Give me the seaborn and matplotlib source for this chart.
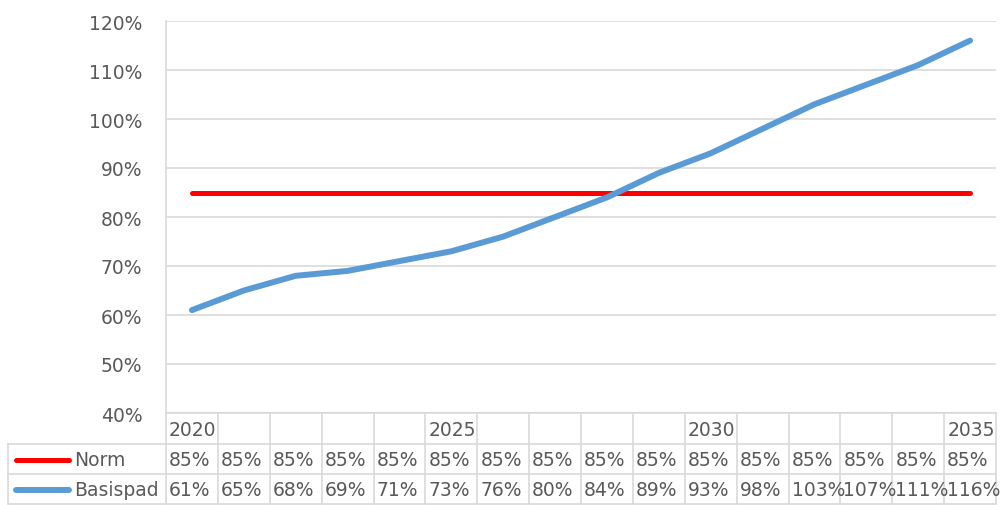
import numpy as np
import pandas as pd
import matplotlib
matplotlib.use("Agg")
import matplotlib.pyplot as plt
from matplotlib import transforms
from matplotlib.lines import Line2D
import seaborn as sns

# ---- data ----
years = list(range(2020, 2036))
year_labels = ["2020", "", "", "", "", "2025", "", "", "", "", "2030", "", "", "", "", "2035"]
norm = [85] * 16
basispad = [61, 65, 68, 69, 71, 73, 76, 80, 84, 89, 93, 98, 103, 107, 111, 116]
series_names = ["Norm", "Basispad"]
series_colors = ["#ff0000", "#5b9bd5"]
series_widths = [3.6, 4.3]
ytick_values = [40, 50, 60, 70, 80, 90, 100, 110, 120]

df = pd.DataFrame({
    "idx": list(range(len(years))) * 2,
    "value": norm + basispad,
    "series": [series_names[0]] * len(years) + [series_names[1]] * len(years),
})

sns.set_theme(style="white")
plt.rcParams["font.family"] = ["DejaVu Sans"]

W, H = 1002, 506
fig = plt.figure(figsize=(W / 100, H / 100), dpi=100)
L, R, T, B = 166, 996, 22, 414
ax = fig.add_axes([L / W, 1 - B / H, (R - L) / W, (B - T) / H])

sns.lineplot(data=df, x="idx", y="value", hue="series", palette=series_colors,
             hue_order=series_names, ax=ax, legend=False)
for ln, lw in zip(ax.lines, series_widths):
    ln.set_linewidth(lw)
    ln.set_solid_capstyle("round")

grid_c = "#d9d9d9"
text_c = "#595959"
fs = 13.5

ax.set_xlim(-0.5, len(years) - 0.5)
ax.set_ylim(40, 120)
ax.set_yticks(ytick_values)
ax.set_yticklabels([f"{v}%" for v in ytick_values], color=text_c, fontsize=fs)
ax.set_xticks([])
ax.set_xlabel("")
ax.set_ylabel("")
ax.tick_params(axis="y", length=0, pad=17)
ax.yaxis.grid(True, color=grid_c, linewidth=1.2)
ax.set_axisbelow(True)
for s in ["top", "right", "bottom"]:
    ax.spines[s].set_visible(False)
ax.spines["left"].set_color(grid_c)
ax.spines["left"].set_linewidth(1.2)

# ---- data table ----
tr = transforms.blended_transform_factory(ax.transData, fig.transFigure)
fy = lambda p: 1 - p / H
inv = ax.transData.inverted()
px2x = lambda px: inv.transform((px, 0))[0]

n = len(years)
x_leg = px2x(8)
rows = [414, 445, 475, 505]

def hline(x0, x1, yp):
    fig.add_artist(Line2D([x0, x1], [fy(yp), fy(yp)], transform=tr, color=grid_c, lw=1.2))

def vline(x, y0, y1):
    fig.add_artist(Line2D([x, x], [fy(y0), fy(y1)], transform=tr, color=grid_c, lw=1.2))

hline(-0.5, n - 0.5, rows[0])
for yp in rows[1:]:
    hline(x_leg, n - 0.5, yp)
for i in range(n + 1):
    vline(i - 0.5, rows[0], rows[3])
vline(x_leg, rows[1], rows[3])

pad = px2x(169) - px2x(166)
for i, lab in enumerate(year_labels):
    fig.text(i - 0.5 + pad, fy((rows[0] + rows[1]) / 2 + 1), lab, transform=tr,
             ha="left", va="center", color=text_c, fontsize=fs)

for r, (name, vals, col, lw) in enumerate(zip(series_names, [norm, basispad], series_colors, series_widths)):
    yc = (rows[r + 1] + rows[r + 2]) / 2 + 1
    fig.add_artist(Line2D([px2x(16), px2x(69)], [fy(yc), fy(yc)], transform=tr,
                          color=col, lw=lw, solid_capstyle="round"))
    fig.text(px2x(74), fy(yc), name, transform=tr, ha="left", va="center",
             color=text_c, fontsize=fs)
    for i, v in enumerate(vals):
        fig.text(i - 0.5 + pad, fy(yc), f"{v}%", transform=tr, ha="left", va="center",
                 color=text_c, fontsize=fs)

fig.savefig("out.png", dpi=100)
